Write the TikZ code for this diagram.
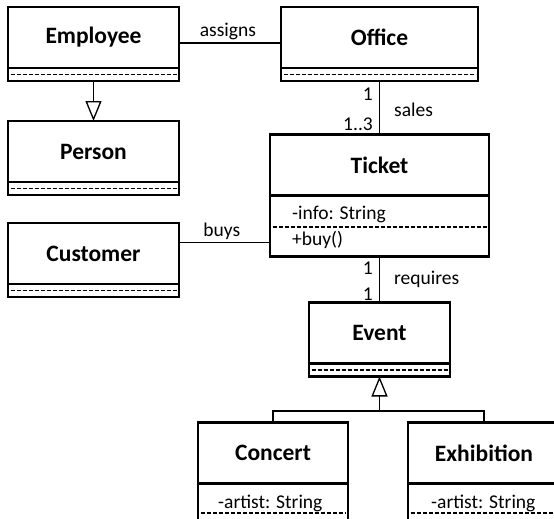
\documentclass[tikz,border=0pt]{standalone}
\usepackage{fontspec}
\setmainfont{Carlito}
\usetikzlibrary{arrows.meta,positioning}

\tikzset{
    classhead/.style={draw, line width=2.8pt, outer sep=0pt, inner sep=0pt,
      minimum height=61pt, font=\bfseries\fontsize{23.5}{28}\selectfont},
    classfoot/.style={draw, line width=2.8pt, outer sep=0pt, inner sep=0pt,
      minimum height=13pt},
    member/.style={anchor=base west, inner sep=0pt, font=\fontsize{19.5}{23}\selectfont},
    lbl/.style={inner sep=2pt, font=\fontsize{19.5}{23}\selectfont},
    assoc/.style={line width=1.3pt},
    generalize/.style={line width=1.3pt,
      -{Triangle[open, length=20pt, width=16pt, line width=1.3pt]}},
    sep/.style={line width=1.2pt, dash pattern=on 4pt off 2pt}
}

\begin{document}
\begin{tikzpicture}[x=1pt,y=-1pt]
    \useasboundingbox (0,0) rectangle (554,519);
    \clip (0,0) rectangle (554,519);

    % classes
    \node[classhead, minimum width=171pt] (employee) at (93.5,37.5) {Employee};
    \node[classfoot, minimum width=171pt, below=0pt of employee] (employee-f) {};
    \node[classhead, minimum width=171pt] (person) at (93.5,151.5) {Person};
    \node[classfoot, minimum width=171pt, below=0pt of person] (person-f) {};
    \node[classhead, minimum width=171pt] (customer) at (93.5,253.5) {Customer};
    \node[classfoot, minimum width=171pt, below=0pt of customer] (customer-f) {};
    \node[classhead, minimum width=197pt] (office) at (379.5,37.5) {Office};
    \node[classfoot, minimum width=197pt, below=0pt of office] (office-f) {};
    \node[classhead, minimum width=141pt] (event) at (379.5,333) {Event};
    \node[classfoot, minimum width=141pt, below=0pt of event] (event-f) {};

    \node[classhead, minimum width=219pt] (ticket) at (379.5,165) {Ticket};
    \node[classfoot, minimum width=219pt, minimum height=61pt, below=0pt of ticket] (ticket-b) {};
    \node[member] (ticket-info) at (292,219) {-info: String};
    \node[member] (ticket-buy) at (292,245) {+buy()};
    \draw[sep] ([xshift=2.5pt]ticket-b.west |- 0,227) -- ([xshift=-2.5pt]ticket-b.east |- 0,227);

    \node[classhead, minimum width=150pt] (concert) at (273,453) {Concert};
    \node[classfoot, minimum width=150pt, minimum height=61pt, below=0pt of concert] (concert-b) {};
    \node[member] (concert-artist) at (218,508) {-artist: String};
    \draw[sep] ([xshift=2.5pt]concert-b.west |- 0,513) -- ([xshift=-2.5pt]concert-b.east |- 0,513);

    \node[classhead, minimum width=152pt] (exhibition) at (484,453) {Exhibition};
    \node[classfoot, minimum width=152pt, minimum height=61pt, below=0pt of exhibition] (exhibition-b) {};
    \node[member] (exhibition-artist) at (431,508) {-artist: String};
    \draw[sep] ([xshift=2.5pt]exhibition-b.west |- 0,513) -- ([xshift=-2.5pt]exhibition-b.east |- 0,513);

    \foreach \c in {employee,person,customer,office,event}
      \draw[sep] ([xshift=2.5pt]\c-f.west) -- ([xshift=-2.5pt]\c-f.east);

    % associations
    \draw[assoc] ([yshift=-5.5pt]employee.east) -- node[lbl, above, pos=0.48] {assigns} ([yshift=-5.5pt]office.west);
    \draw[assoc] ([yshift=11pt]customer.east) coordinate (buys-l) -- node[lbl, above, pos=0.47] {buys} (buys-l -| ticket-b.west);
    \draw[assoc] (office-f.south) --
      node[lbl, pos=0.24, left=4pt] {1}
      node[lbl, pos=0.54, right=12pt] {sales}
      node[lbl, pos=0.81, left=4pt] {1..3} (ticket.north);
    \draw[assoc] (ticket-b.south) --
      node[lbl, pos=0.26, left=4pt] {1}
      node[lbl, pos=0.5, right=12pt] {requires}
      node[lbl, pos=0.81, left=4pt] {1} (event.north);

    % generalizations
    \draw[generalize] (employee-f.south) -- (person.north);
    \coordinate (split) at (379.5,411);
    \draw[assoc] (concert.north) |- (split) -| (exhibition.north);
    \draw[generalize] (split) -- (event-f.south);
\end{tikzpicture}
\end{document}
